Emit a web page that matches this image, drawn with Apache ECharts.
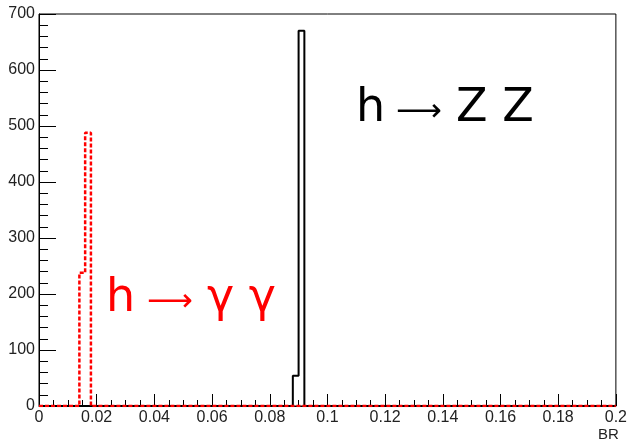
<!DOCTYPE html>
<html lang="en">
<head>
  <meta charset="UTF-8">
  <title>BR histogram</title>
  <script src="https://cdn.jsdelivr.net/npm/echarts@6/dist/echarts.min.js"></script>
  <style>
    body { margin: 0; background: #fff; }
    #chart { width: 630px; height: 442px; }
  </style>
</head>
<body>
  <div id="chart"></div>
  <script>
    // histogram settings (100 bins from 0 to 0.2)
    const xMin = 0;
    const xMax = 0.2;
    const binWidth = 0.002;

    // h -> gamma gamma (red, dotted): lower edge of non-empty bins and counts
    const ggBinLow = [0.014, 0.016];
    const ggCounts = [238, 488];

    // h -> ZZ (black, solid)
    const zzBinLow = [0.088, 0.090];
    const zzCounts = [54, 670];

    const xTicks = [0, 0.02, 0.04, 0.06, 0.08, 0.1, 0.12, 0.14, 0.16, 0.18, 0.2];
    const yTicks = [0, 100, 200, 300, 400, 500, 600, 700];

    // outline of a histogram as ROOT draws it: zero line with steps at filled bins
    function outline(lows, counts) {
      const pts = [[xMin, 0]];
      for (let i = 0; i < lows.length; i++) {
        const lo = lows[i], hi = lo + binWidth;
        const prev = pts[pts.length - 1][1];
        pts.push([lo, prev]);
        pts.push([lo, counts[i]]);
        pts.push([hi, counts[i]]);
        if (i === lows.length - 1 || Math.abs(lows[i + 1] - hi) > 1e-9) {
          pts.push([hi, 0]);
        }
      }
      pts.push([xMax, 0]);
      return pts;
    }

    const chart = echarts.init(document.getElementById('chart'));
    const font = 'Liberation Sans, Arial, sans-serif';
    const labelColor = '#222';
    const bigFont = '46px "DejaVu Sans", sans-serif';
    const arrowFont = '32px "DejaVu Sans", sans-serif';

    // a decay label: "h", a long thin arrow, then the products
    function decayLabel(x, top, arrowX, arrowY, prodX, products, color) {
      return [
        { type: 'text', left: x, top: top, style: { text: 'h', fill: color, font: bigFont } },
        { type: 'text', x: arrowX, y: arrowY,
          style: { text: '⟶', fill: color, font: arrowFont, align: 'center', verticalAlign: 'middle' } },
        { type: 'text', left: prodX, top: top, style: { text: products, fill: color, font: bigFont } }
      ];
    }

    chart.setOption({
      animation: false,
      grid: {
        left: 39, right: 9, top: 14, bottom: 35,
        show: true, borderColor: '#000', borderWidth: 1
      },
      xAxis: {
        type: 'value',
        min: xMin, max: xMax, interval: 0.02,
        name: 'BR',
        nameLocation: 'end',
        nameGap: 3,
        nameTextStyle: {
          color: labelColor, fontFamily: font, fontSize: 15,
          align: 'right', verticalAlign: 'top', padding: [21, 0, 0, 0]
        },
        axisLine: { lineStyle: { color: '#000', width: 1 } },
        axisTick: { inside: true, length: 12, lineStyle: { color: '#000' } },
        minorTick: { show: true, splitNumber: 4, length: 6, lineStyle: { color: '#000' } },
        splitLine: { show: false },
        axisLabel: {
          color: labelColor, fontFamily: font, fontSize: 16, margin: 4,
          formatter: v => {
            const t = xTicks.find(k => Math.abs(k - v) < 1e-9);
            return t === undefined ? '' : String(t);
          }
        }
      },
      yAxis: {
        type: 'value',
        min: 0, max: 700, interval: 100,
        axisLine: { show: true, lineStyle: { color: '#000', width: 1 } },
        axisTick: { inside: true, length: 17, lineStyle: { color: '#000' } },
        minorTick: { show: true, splitNumber: 5, length: 9, lineStyle: { color: '#000' } },
        splitLine: { show: false },
        axisLabel: {
          color: labelColor, fontFamily: font, fontSize: 16, margin: 4,
          formatter: v => yTicks.includes(v) ? String(v) : ''
        }
      },
      series: [
        {
          name: 'h → Z Z',
          type: 'line',
          data: outline(zzBinLow, zzCounts),
          symbol: 'none',
          lineStyle: { color: '#000', width: 2 },
          z: 3
        },
        {
          name: 'h → γ γ',
          type: 'line',
          data: outline(ggBinLow, ggCounts),
          symbol: 'none',
          lineStyle: { color: '#ff0000', width: 2.5, type: [4, 2] },
          z: 4
        }
      ],
      graphic: [
        ...decayLabel(356, 86, 419, 113, 456, 'Z Z', '#000'),
        ...decayLabel(106, 276, 170, 303, 207, 'γ γ', '#ff0000')
      ]
    });
  </script>
</body>
</html>
